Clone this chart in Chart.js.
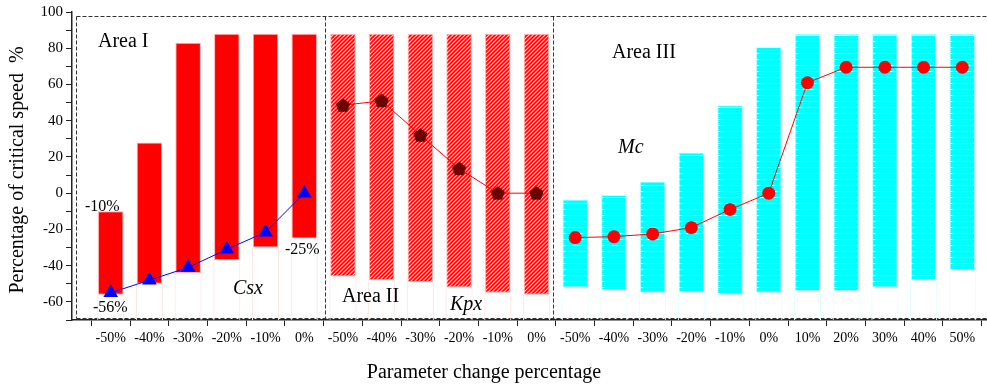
<!DOCTYPE html>
<html>
<head>
<meta charset="utf-8">
<script src="https://cdn.jsdelivr.net/npm/chart.js"></script>
<style>
    html, body { margin: 0; padding: 0; background: #fff; overflow: hidden; }
    canvas { display: block; }
</style>
</head>
<body>
<canvas id="grafico" width="1010" height="388"></canvas>
<script>
// Dados
const categorias = [
    '-50%', '-40%', '-30%', '-20%', '-10%', '0%',
    '-50%', '-40%', '-30%', '-20%', '-10%', '0%',
    '-50%', '-40%', '-30%', '-20%', '-10%', '0%', '10%', '20%', '30%', '40%', '50%'
];
// área de cada barra: 1 = Csx, 2 = Kpx, 3 = Mc
const areas = [1, 1, 1, 1, 1, 1, 2, 2, 2, 2, 2, 2, 3, 3, 3, 3, 3, 3, 3, 3, 3, 3, 3];
const barrasMin = [-56, -50, -44, -37, -30, -25, -46, -48, -49, -52, -55, -56,
    -52, -53.5, -55, -54.5, -56, -55, -54, -54, -52, -48, -42.5];
const barrasMax = [-10, 28, 83, 88, 88, 88, 88, 88, 88, 88, 88, 88,
    -3.5, -1, 6.5, 22.5, 48.5, 81, 88, 88, 88, 88, 88];
const curvaCsx = [-55, -48, -41, -31, -21.5, 0];
const curvaKpx = [48.5, 51, 32, 13.5, 0, 0];
const curvaMc = [-24.5, -24, -22.5, -19, -9, 0, 61, 69.5, 69.5, 69.5, 69.5];
const yMin = -70;
const yMax = 100;

const fonte = '"Liberation Serif", "Times New Roman", serif';

// Padrões de preenchimento
function padraoHachurado() {
    const c = document.createElement('canvas');
    c.width = 4; c.height = 4;
    const g = c.getContext('2d');
    g.fillStyle = '#ff0000';
    g.fillRect(0, 0, 4, 4);
    g.strokeStyle = '#ffe0e0';
    g.lineWidth = 1.1;
    g.beginPath();
    g.moveTo(-1, 5); g.lineTo(5, -1);
    g.moveTo(-1, 1); g.lineTo(1, -1);
    g.moveTo(3, 5); g.lineTo(5, 3);
    g.stroke();
    return g.createPattern(c, 'repeat');
}

function padraoListrado() {
    const c = document.createElement('canvas');
    c.width = 6; c.height = 6;
    const g = c.getContext('2d');
    g.fillStyle = '#00ffff';
    g.fillRect(0, 0, 6, 6);
    g.fillStyle = '#ffffff';
    g.fillRect(0, 5, 6, 1);
    return g.createPattern(c, 'repeat');
}

function pentagono(cor, r) {
    const c = document.createElement('canvas');
    const s = Math.ceil(r * 2 + 2);
    c.width = s; c.height = s;
    const g = c.getContext('2d');
    g.fillStyle = cor;
    g.beginPath();
    for (let i = 0; i < 5; i++) {
        const a = -Math.PI / 2 + i * 2 * Math.PI / 5;
        const px = s / 2 + r * Math.cos(a);
        const py = s / 2 + r * Math.sin(a) + 0.5;
        if (i === 0) g.moveTo(px, py); else g.lineTo(px, py);
    }
    g.closePath();
    g.fill();
    return c;
}

const hachura = padraoHachurado();
const listras = padraoListrado();

// Monta as séries (uma posição vazia em cada ponta do eixo)
const rotulos = [''].concat(categorias, ['']);
const vazio = () => [null];

const dadosBarras = vazio().concat(barrasMin.map((v, i) => [v, barrasMax[i]]), vazio());
const dadosHastes = vazio().concat(barrasMin.map(v => [yMin, v]), vazio());

function serieDaArea(area, valores) {
    const inicio = areas.indexOf(area);
    const linha = rotulos.map(() => null);
    valores.forEach((v, i) => { linha[inicio + i + 1] = v; });
    return linha;
}

function corBarra(ctx) {
    const i = ctx.dataIndex - 1;
    if (areas[i] === 1) return '#ff0000';
    if (areas[i] === 2) return hachura;
    return listras;
}

function bordaBarra(ctx) {
    const i = ctx.dataIndex - 1;
    return areas[i] === 3 ? '#b8ffff' : '#ffb4b4';
}

function corHaste(ctx) {
    const i = ctx.dataIndex - 1;
    return areas[i] === 3 ? '#e4ffff' : '#fde6e6';
}

// Textos e caixas tracejadas
const anotacoes = [
    { texto: 'Area I', x: 98, y: 42, tam: 20, italico: false },
    { texto: 'Area II', x: 342, y: 297, tam: 20, italico: false },
    { texto: 'Area III', x: 612, y: 53, tam: 20, italico: false },
    { texto: 'Csx', x: 233, y: 289, tam: 20, italico: true },
    { texto: 'Kpx', x: 450, y: 305, tam: 20, italico: true },
    { texto: 'Mc', x: 618, y: 148, tam: 20, italico: true },
    { texto: '-10%', x: 85, y: 207, tam: 16, italico: false },
    { texto: '-56%', x: 93, y: 308, tam: 16, italico: false },
    { texto: '-25%', x: 285, y: 250, tam: 16, italico: false }
];

const extras = {
    id: 'extras',
    beforeDatasetsDraw(chart) {
        const g = chart.ctx;
        g.save();
        g.strokeStyle = '#333';
        g.lineWidth = 1;
        g.setLineDash([4, 2]);
        g.beginPath();
        g.moveTo(76.5, 16.5); g.lineTo(1001, 16.5);
        g.moveTo(76.5, 318.5); g.lineTo(1001, 318.5);
        g.moveTo(76.5, 16.5); g.lineTo(76.5, 318.5);
        g.moveTo(325.5, 16.5); g.lineTo(325.5, 318.5);
        g.moveTo(553.5, 16.5); g.lineTo(553.5, 318.5);
        g.stroke();
        g.restore();
    },
    afterDraw(chart) {
        const g = chart.ctx;
        g.save();
        g.fillStyle = '#000';
        g.textBaseline = 'middle';
        g.textAlign = 'left';
        anotacoes.forEach(a => {
            g.font = (a.italico ? 'italic ' : '') + a.tam + 'px ' + fonte;
            g.fillText(a.texto, a.x, a.y);
        });
        // títulos dos eixos
        g.textAlign = 'center';
        g.font = '20px ' + fonte;
        g.fillText('Parameter change percentage', 484, 373);
        g.translate(18, 170);
        g.rotate(-Math.PI / 2);
        g.fillText('Percentage of critical speed  %', 0, 0);
        g.restore();
    }
};

new Chart(document.getElementById('grafico'), {
    type: 'bar',
    data: {
        labels: rotulos,
        datasets: [
            {
                type: 'line',
                data: serieDaArea(1, curvaCsx),
                borderColor: '#0000ff',
                borderWidth: 1,
                pointStyle: 'triangle',
                pointRadius: 8.5,
                pointBackgroundColor: '#0000ff',
                pointBorderColor: '#0000ff',
                pointBorderWidth: 0,
                spanGaps: false,
                order: 0
            },
            {
                type: 'line',
                data: serieDaArea(2, curvaKpx),
                borderColor: '#ff0000',
                borderWidth: 1,
                pointStyle: pentagono('#6b0000', 7.5),
                pointRadius: 7,
                spanGaps: false,
                order: 0
            },
            {
                type: 'line',
                data: serieDaArea(3, curvaMc),
                borderColor: '#ff0000',
                borderWidth: 1,
                pointStyle: 'circle',
                pointRadius: 6.5,
                pointBackgroundColor: '#ff0000',
                pointBorderColor: '#ff0000',
                pointBorderWidth: 0,
                spanGaps: false,
                order: 0
            },
            {
                data: dadosBarras,
                backgroundColor: corBarra,
                borderColor: bordaBarra,
                borderWidth: 1,
                borderSkipped: false,
                grouped: false,
                barPercentage: 0.66,
                categoryPercentage: 1,
                order: 1
            },
            {
                data: dadosHastes,
                backgroundColor: 'rgba(0,0,0,0)',
                borderColor: corHaste,
                borderWidth: { left: 1, right: 1, top: 0, bottom: 0 },
                borderSkipped: false,
                grouped: false,
                barPercentage: 0.7,
                categoryPercentage: 1,
                order: 2
            }
        ]
    },
    options: {
        responsive: false,
        animation: false,
        layout: { padding: { top: 12, right: 9, left: 0, bottom: 0 } },
        plugins: {
            legend: { display: false },
            tooltip: { enabled: false }
        },
        scales: {
            x: {
                offset: false,
                afterFit(scale) { scale.height = 68; },
                grid: { drawOnChartArea: false, tickLength: 6, color: '#222' },
                border: { display: true, color: '#222', width: 1.5 },
                ticks: {
                    autoSkip: false,
                    maxRotation: 0,
                    padding: 4,
                    color: '#000',
                    font: { family: fonte, size: 14 }
                }
            },
            y: {
                min: yMin,
                max: yMax,
                afterFit(scale) { scale.width = 72; },
                grid: { drawOnChartArea: false, tickLength: 6, color: '#222' },
                border: { display: true, color: '#222', width: 1.5 },
                ticks: {
                    stepSize: 10,
                    autoSkip: false,
                    padding: 3,
                    color: '#000',
                    font: { family: fonte, size: 15 },
                    callback: v => (v % 20 === 0 ? v : '')
                }
            }
        }
    },
    plugins: [extras]
});
</script>
</body>
</html>
